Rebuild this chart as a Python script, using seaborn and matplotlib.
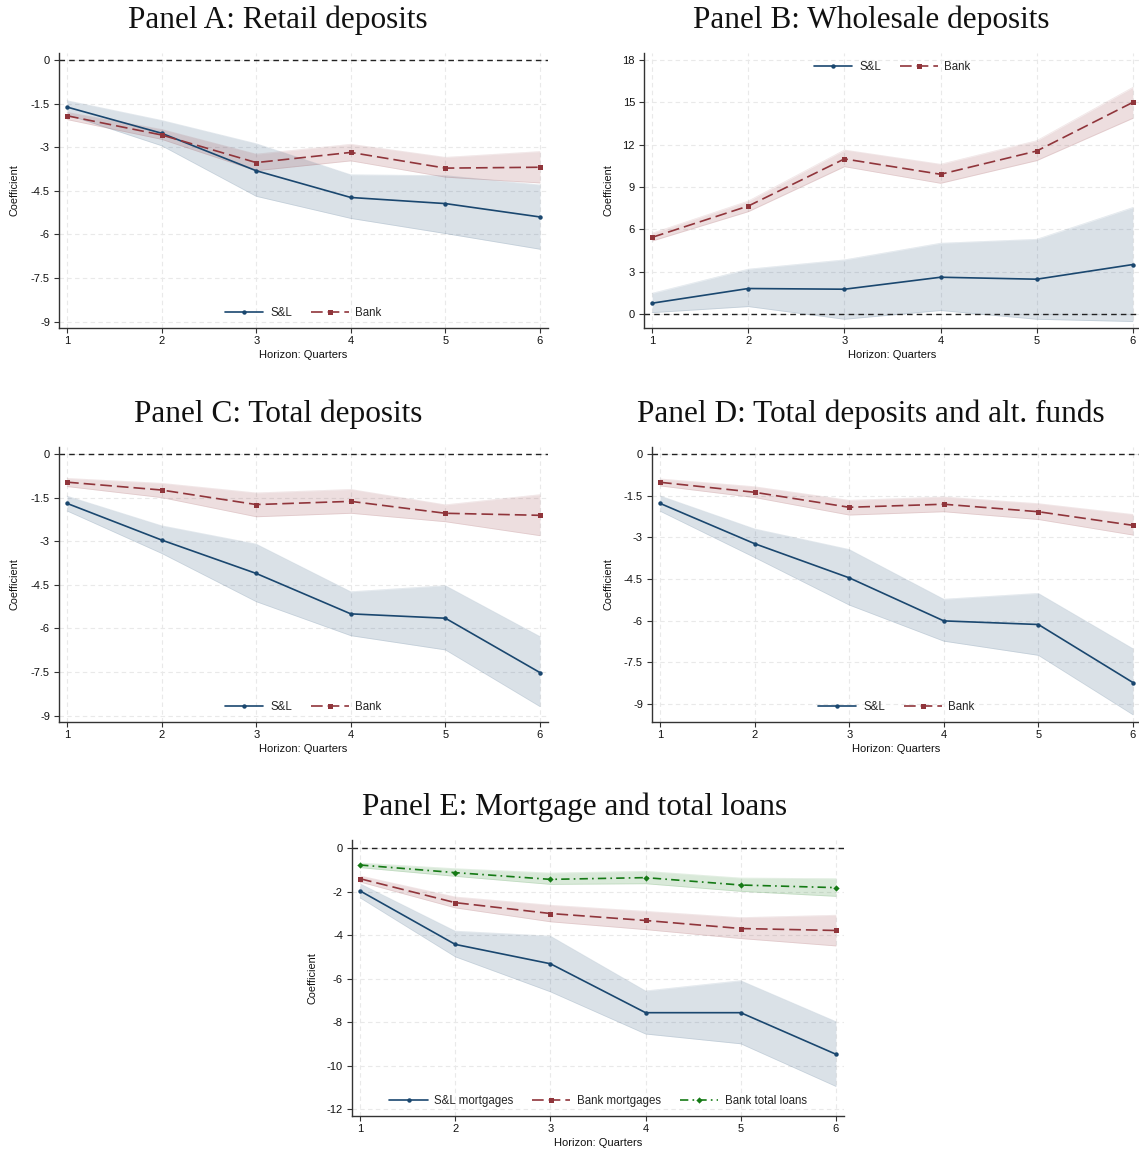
import matplotlib
matplotlib.use("Agg")
import matplotlib.pyplot as plt
import seaborn as sns
import pandas as pd

sns.set_theme(style="ticks")
plt.rcParams["font.family"] = ["Liberation Sans", "DejaVu Sans"]

horizon = [1, 2, 3, 4, 5, 6]

# Panel A: Retail deposits
retail_sl = [-1.62, -2.52, -3.81, -4.73, -4.94, -5.40]
retail_sl_hi = [-1.40, -2.08, -2.88, -3.95, -3.98, -4.30]
retail_sl_lo = [-1.88, -2.95, -4.69, -5.45, -5.97, -6.51]
retail_bank = [-1.92, -2.58, -3.53, -3.18, -3.72, -3.69]
retail_bank_hi = [-1.80, -2.39, -3.24, -2.90, -3.35, -3.15]
retail_bank_lo = [-2.05, -2.73, -3.81, -3.47, -4.03, -4.23]

# Panel B: Wholesale deposits
whole_sl = [0.76, 1.80, 1.75, 2.60, 2.46, 3.50]
whole_sl_hi = [1.46, 3.17, 3.83, 5.01, 5.29, 7.54]
whole_sl_lo = [0.09, 0.52, -0.38, 0.24, -0.38, -0.54]
whole_bank = [5.43, 7.65, 10.99, 9.90, 11.55, 15.00]
whole_bank_hi = [5.72, 8.00, 11.62, 10.61, 12.28, 16.06]
whole_bank_lo = [5.17, 7.25, 10.44, 9.26, 10.87, 13.87]

# Panel C: Total deposits
total_sl = [-1.70, -2.96, -4.11, -5.50, -5.65, -7.52]
total_sl_hi = [-1.45, -2.47, -3.10, -4.74, -4.53, -6.28]
total_sl_lo = [-1.96, -3.42, -5.08, -6.25, -6.74, -8.69]
total_bank = [-0.97, -1.24, -1.74, -1.63, -2.04, -2.11]
total_bank_hi = [-0.84, -1.01, -1.34, -1.22, -1.75, -1.40]
total_bank_lo = [-1.12, -1.50, -2.16, -2.04, -2.33, -2.81]

# Panel D: Total deposits and alternative funds
alt_sl = [-1.78, -3.23, -4.46, -6.01, -6.14, -8.23]
alt_sl_hi = [-1.51, -2.70, -3.44, -5.23, -5.02, -7.01]
alt_sl_lo = [-2.06, -3.73, -5.44, -6.74, -7.25, -9.39]
alt_bank = [-1.02, -1.38, -1.92, -1.81, -2.08, -2.57]
alt_bank_hi = [-0.90, -1.18, -1.67, -1.55, -1.79, -2.18]
alt_bank_lo = [-1.15, -1.57, -2.20, -2.08, -2.36, -2.92]

# Panel E: Mortgage and total loans
mort_sl = [-1.97, -4.43, -5.32, -7.57, -7.57, -9.48]
mort_sl_hi = [-1.64, -3.82, -4.05, -6.57, -6.10, -7.98]
mort_sl_lo = [-2.29, -5.00, -6.61, -8.55, -9.00, -10.96]
mort_bank = [-1.41, -2.51, -3.01, -3.33, -3.70, -3.79]
mort_bank_hi = [-1.28, -2.25, -2.63, -2.91, -3.20, -3.09]
mort_bank_lo = [-1.56, -2.75, -3.39, -3.75, -4.16, -4.50]
loans_bank = [-0.78, -1.13, -1.44, -1.36, -1.70, -1.82]
loans_bank_hi = [-0.69, -0.95, -1.15, -1.07, -1.38, -1.41]
loans_bank_lo = [-0.90, -1.30, -1.67, -1.64, -1.99, -2.22]

deposit_ticks = [0, -1.5, -3, -4.5, -6, -7.5, -9]
deposit_tick_labels = ["0", "-1.5", "-3", "-4.5", "-6", "-7.5", "-9"]
wholesale_ticks = [0, 3, 6, 9, 12, 15, 18]
wholesale_tick_labels = ["0", "3", "6", "9", "12", "15", "18"]
loan_ticks = [0, -2, -4, -6, -8, -10, -12]
loan_tick_labels = ["0", "-2", "-4", "-6", "-8", "-10", "-12"]

NAVY = "#1a476f"
MAROON = "#90353b"
GREEN = "#157a15"

STYLES = {
    "sl": dict(color=NAVY, marker="o", ms=3.2, dashes=None),
    "bank": dict(color=MAROON, marker="s", ms=3.6, dashes=(7, 3)),
    "green": dict(color=GREEN, marker="D", ms=3.2, dashes=(5, 2.5, 1, 2.5)),
}

W, H = 1139, 1152
fig = plt.figure(figsize=(W / 100, H / 100), dpi=100)


def make_axes(left, right, top, bottom):
    return fig.add_axes([left / W, 1 - bottom / H, (right - left) / W, (bottom - top) / H])


def draw_series(ax, y, lo, hi, label, kind):
    st = STYLES[kind]
    df = pd.DataFrame({"h": horizon, "v": y})
    ax.fill_between(horizon, lo, hi, color=st["color"], alpha=0.16, lw=0, zorder=1)
    ax.plot(horizon, lo, color=st["color"], alpha=0.12, lw=0.6, zorder=1.2)
    ax.plot(horizon, hi, color=st["color"], alpha=0.12, lw=0.6, zorder=1.2)
    sns.lineplot(data=df, x="h", y="v", ax=ax, color=st["color"], marker=st["marker"],
                 markersize=st["ms"], markeredgewidth=0, lw=1.2, zorder=3, label=label,
                 legend=False)
    line = ax.lines[-1]
    if st["dashes"] is not None:
        line.set_dashes(st["dashes"])
    return line


def style_axes(ax, ylim, ticks, tick_labels, xlim, ylab_x):
    ax.set_xlim(*xlim)
    ax.set_ylim(*ylim)
    ax.set_xticks(horizon)
    ax.set_xticklabels([str(h) for h in horizon])
    ax.set_yticks(ticks)
    ax.set_yticklabels(tick_labels)
    ax.tick_params(axis="both", labelsize=8, length=3.5, width=0.8, color="#333333",
                   labelcolor="#111111", pad=2)
    ax.tick_params(axis="y", pad=3)
    for s in ["top", "right"]:
        ax.spines[s].set_visible(False)
    for s in ["left", "bottom"]:
        ax.spines[s].set_color("#333333")
        ax.spines[s].set_linewidth(1.0)
    ax.grid(True, color="#e9e9e9", lw=0.8, ls=(0, (4, 3)))
    ax.set_axisbelow(True)
    ax.axhline(0, color="#222222", lw=1.0, ls=(0, (4, 3)), zorder=2)
    ax.set_xlabel("Horizon: Quarters", fontsize=8, color="#111111")
    ax.set_ylabel("Coefficient", fontsize=7.8, color="#111111")
    ax.xaxis.set_label_coords(0.5, -0.08)
    ax.yaxis.set_label_coords(ylab_x, 0.5)


def add_legend(ax, handles, loc, anchor, colsp=1.6):
    ax.legend(handles=handles, labels=[h.get_label() for h in handles], loc=loc,
              bbox_to_anchor=anchor, ncol=len(handles), frameon=False, fontsize=8.3,
              handlelength=3.3, handletextpad=0.6, columnspacing=colsp, numpoints=1,
              borderaxespad=0)


def title(x, y, text):
    fig.text(x / W, 1 - y / H, text, ha="center", va="center", fontsize=22.5,
             family=["Liberation Serif", "DejaVu Serif"], color="#111111")


XL = (0.915, 6.085)

# Panel A
ax = make_axes(59, 548, 53, 328)
h1 = draw_series(ax, retail_sl, retail_sl_lo, retail_sl_hi, "S&L", "sl")
h2 = draw_series(ax, retail_bank, retail_bank_lo, retail_bank_hi, "Bank", "bank")
style_axes(ax, (-9.22, 0.24), deposit_ticks, deposit_tick_labels, XL, -0.08)
add_legend(ax, [h1, h2], "center", (0.5, 0.055))
title(278, 20, "Panel A: Retail deposits")

# Panel B
ax = make_axes(644, 1141, 53, 328)
h1 = draw_series(ax, whole_sl, whole_sl_lo, whole_sl_hi, "S&L", "sl")
h2 = draw_series(ax, whole_bank, whole_bank_lo, whole_bank_hi, "Bank", "bank")
style_axes(ax, (-1.0, 18.5), wholesale_ticks, wholesale_tick_labels, XL, -0.062)
add_legend(ax, [h1, h2], "center", (0.5, 0.95))
title(871, 20, "Panel B: Wholesale deposits")

# Panel C
ax = make_axes(59, 548, 447, 722)
h1 = draw_series(ax, total_sl, total_sl_lo, total_sl_hi, "S&L", "sl")
h2 = draw_series(ax, total_bank, total_bank_lo, total_bank_hi, "Bank", "bank")
style_axes(ax, (-9.22, 0.24), deposit_ticks, deposit_tick_labels, XL, -0.08)
add_legend(ax, [h1, h2], "center", (0.5, 0.055))
title(278, 414, "Panel C: Total deposits")

# Panel D
ax = make_axes(652, 1141, 447, 722)
h1 = draw_series(ax, alt_sl, alt_sl_lo, alt_sl_hi, "S&L", "sl")
h2 = draw_series(ax, alt_bank, alt_bank_lo, alt_bank_hi, "Bank", "bank")
style_axes(ax, (-9.65, 0.25), deposit_ticks, deposit_tick_labels, XL, -0.078)
add_legend(ax, [h1, h2], "center", (0.5, 0.055))
title(871, 414, "Panel D: Total deposits and alt. funds")

# Panel E
ax = make_axes(352, 844, 840, 1116)
h1 = draw_series(ax, mort_sl, mort_sl_lo, mort_sl_hi, "S&L mortgages", "sl")
h2 = draw_series(ax, mort_bank, mort_bank_lo, mort_bank_hi, "Bank mortgages", "bank")
h3 = draw_series(ax, loans_bank, loans_bank_lo, loans_bank_hi, "Bank total loans", "green")
style_axes(ax, (-12.32, 0.37), loan_ticks, loan_tick_labels, XL, -0.071)
add_legend(ax, [h1, h2, h3], "center", (0.5, 0.053), colsp=1.6)
title(575, 807, "Panel E: Mortgage and total loans")

fig.savefig("out.png", dpi=100)
